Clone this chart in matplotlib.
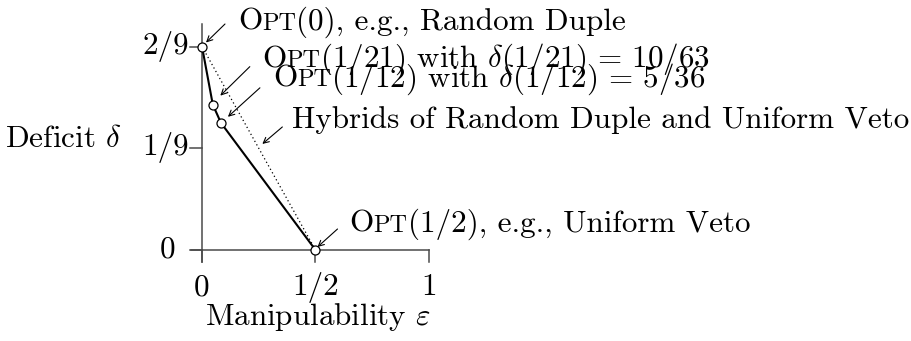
import matplotlib
matplotlib.use('Agg')
import matplotlib.pyplot as plt
import matplotlib.transforms as mtransforms

plt.rcParams['font.family'] = 'cmr10'
plt.rcParams['mathtext.fontset'] = 'cm'

# optimal tradeoff points (manipulability, deficit)
eps_vals = [0, 1/21, 1/12, 1/2]
delta_vals = [2/9, 10/63, 5/36, 0]
# straight mix of the two endpoints
hybrid_eps = [0, 1/2]
hybrid_delta = [2/9, 0]

x_ticks = [0, 1/2, 1]
x_ticklabels = ['0', '1/2', '1']
y_ticks = [0, 1/9, 2/9]
y_ticklabels = ['0', '1/9', '2/9']

opt_args = ['(0)', '(1/21)', '(1/12)', '(1/2)']
opt_notes = [', e.g., Random Duple',
             r' with $\delta(1/21)\,=\,10/63$',
             r' with $\delta(1/12)\,=\,5/36$',
             ', e.g., Uniform Veto']
hybrid_note = 'Hybrids of Random Duple and Uniform Veto'

FS = 22.4
SC = FS * 0.78
AXC = '#4a4a4a'

fig = plt.figure(figsize=(9.11, 3.41), dpi=100)
ax = fig.add_axes([0, 0, 1, 1])
ax.set_xlim(-202 / 227, 709 / 227)
ax.set_ylim(-91 / 915.75, 250 / 915.75)
ax.axis('off')
renderer = fig.canvas.get_renderer()


def shifted(dx, dy):
    return mtransforms.offset_copy(ax.transData, fig=fig, x=dx, y=dy, units='dots')


def chain_text(x, y, dx, dy, pieces):
    # lay out pieces left to right on one baseline
    for s, size in pieces:
        t = ax.text(x, y, s, fontsize=size, ha='left', va='baseline',
                    transform=shifted(dx, dy))
        dx += t.get_window_extent(renderer).width


def opt_label(x, y, dx, dy, arg, note):
    chain_text(x, y, dx, dy, [('O', FS), ('PT', SC), (arg + note, FS)])


def arrow(x, y, tip, tail):
    ax.annotate('', xy=(x, y), xycoords=shifted(*tip),
                xytext=(x, y), textcoords=shifted(*tail),
                arrowprops=dict(arrowstyle='->', lw=0.8, color='black',
                                shrinkA=0, shrinkB=0, mutation_scale=10))


# axes
px = 1 / 227
py = 1 / 915.75
ax.plot([-11 * px, 1], [0, 0], color=AXC, lw=1.1)
ax.plot([0, 0], [-12 * py, 226 * py], color=AXC, lw=1.1)
for xt, lab in zip(x_ticks, x_ticklabels):
    ax.plot([xt, xt], [0, -12 * py], color=AXC, lw=1.1)
    ax.text(xt, 0, lab, fontsize=FS, ha='center', va='baseline',
            transform=shifted(0, -45))
for yt, lab in zip(y_ticks, y_ticklabels):
    ax.plot([0, -12 * px], [yt, yt], color=AXC, lw=1.1)
    gap = -27 if yt == 0 else -13
    ax.text(0, yt, lab, fontsize=FS, ha='right', va='baseline',
            transform=shifted(gap, -7))

ax.text(0, 1/9, r'Deficit $\delta$', fontsize=FS, ha='right', va='baseline',
        transform=shifted(-80, 1))
ax.text(1/2, 0, r'Manipulability $\varepsilon$', fontsize=FS, ha='center',
        va='baseline', transform=shifted(2, -75))

# curves
ax.plot(hybrid_eps, hybrid_delta, color='black', lw=0.9, ls=(0, (1, 2.2)))
ax.plot(eps_vals, delta_vals, color='black', lw=1.5, zorder=3)
ax.plot(eps_vals, delta_vals, ls='none', marker='o', ms=6.5, mfc='white',
        mec='black', mew=0.9, zorder=4)

# annotations
label_offsets = [(36, 16.5), (49, 37.5), (52, 36.5), (34, 18)]
arrow_tips = [(4, 4), (7.5, 9), (7, 6), (2, 3)]
arrow_tails = [(23, 22.5), (37, 38), (39, 35), (22, 21)]
for i in range(len(eps_vals)):
    x, y = eps_vals[i], delta_vals[i]
    opt_label(x, y, *label_offsets[i], opt_args[i], opt_notes[i])
    arrow(x, y, arrow_tips[i], arrow_tails[i])

# hybrid line callout
hy = 0.1158
hx = hybrid_eps[1] * (1 - hy / hybrid_delta[0])
arrow(hx, hy, (6, 0), (26, 17))
chain_text(hx, hy, 36, 16, [(hybrid_note, FS)])

fig.savefig('out.png', dpi=100)
